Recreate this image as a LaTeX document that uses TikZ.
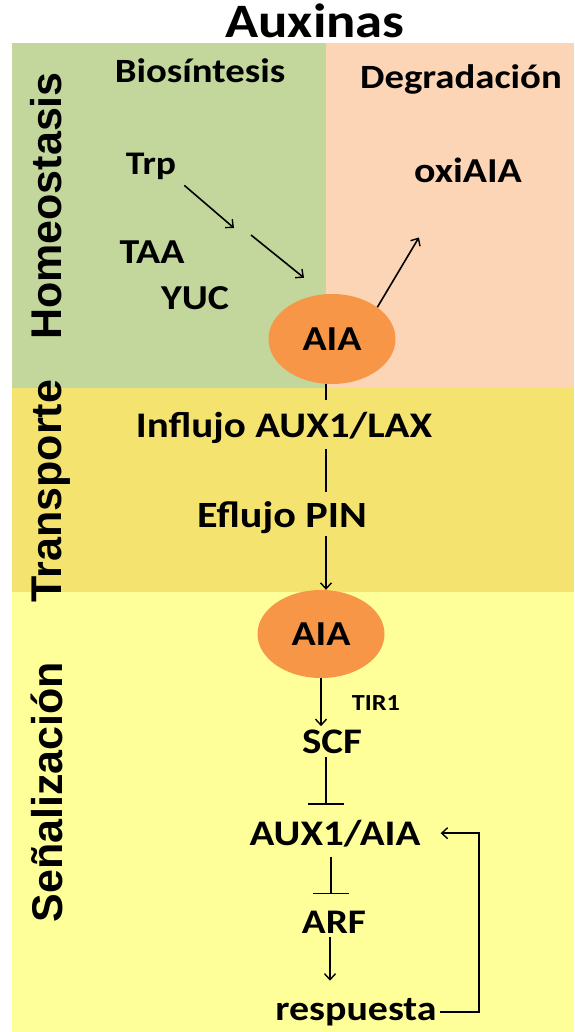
\documentclass[tikz,border=0pt]{standalone}
\usepackage{fontspec}
\setmainfont{Carlito}
\newfontfamily\sidefont{Liberation Sans}
\usetikzlibrary{arrows.meta,shapes.geometric,calc}

\definecolor{homeogreen}{HTML}{C3D69B}
\definecolor{degpeach}{HTML}{FBD5B5}
\definecolor{transyellow}{HTML}{F5E36F}
\definecolor{signalyellow}{HTML}{FFFF99}
\definecolor{auxorange}{HTML}{F79646}

% horizontally widened lettering
\newcommand{\wide}[1]{\scalebox{1.14}[1]{#1}}

\begin{document}
\begin{tikzpicture}[x=1pt,y=-1pt,
  lbl/.style={inner sep=0pt, anchor=base, font=\bfseries\fontsize{35}{40}\selectfont},
  side/.style={inner sep=0pt, anchor=base, rotate=90, font=\sidefont\bfseries\fontsize{43}{48}\selectfont},
  auxin/.style={ellipse, fill=auxorange, inner sep=0pt, minimum width=127pt, minimum height=90pt,
                font=\bfseries\fontsize{35}{40}\selectfont},
  link/.style={line width=1.6pt, black},
  arr/.style={link, -{Straight Barb[length=6pt,width=11pt,line width=1.4pt]}},
  inhib/.style={link, -{Bar[width=36pt,line width=1.7pt]}}]

\useasboundingbox (0,0) rectangle (574,1032);
\fill[white] (0,0) rectangle (574,1032);

% bands
\fill[homeogreen]   (12,43)  rectangle (326,388);
\fill[degpeach]     (326,43) rectangle (574,388);
\fill[transyellow]  (12,388) rectangle (574,592);
\fill[signalyellow] (12,592) rectangle (574,1032);

% headings
\node[lbl, font=\bfseries\fontsize{48}{52}\selectfont] (title) at (315,38) {\wide{Auxinas}};
\node[side] (homeo) at (61,206) {Homeostasis};
\node[side] (transp) at (61,491) {Transporte};
\node[side] (senal) at (62,792) {Señalización};

% homeostasis
\node[lbl, font=\bfseries\fontsize{34}{40}\selectfont] (bio) at (200,83) {\wide{Biosíntesis}};
\node[lbl, font=\bfseries\fontsize{34}{40}\selectfont] (deg) at (461,89) {\wide{Degradación}};
\node[lbl, font=\bfseries\fontsize{33}{40}\selectfont] (trp) at (151,175) {\wide{Trp}};
\node[lbl] (oxi) at (468,183) {\wide{oxiAIA}};
\node[lbl] (taa) at (152,263) {\wide{TAA}};
\node[lbl] (yuc) at (195,309) {\wide{YUC}};
\node[auxin] (aia1) at (332,339) {\wide{AIA}};

\coordinate (taastep) at (234,228);
\coordinate (yucstep) at (251,235);
\draw[arr] ([shift={(8,5)}]trp.south east) -- (taastep);
\draw[arr] (yucstep) -- ([shift={(-28,-16)}]aia1.north);
\draw[arr] (aia1.35) -- ([shift={(5,54)}]oxi.south west);

% transport
\coordinate (spine) at (326,0);
\node[lbl, font=\bfseries\fontsize{36}{40}\selectfont] (influjo) at (284,437) {\wide{Influjo AUX1/LAX}};
\node[lbl, font=\bfseries\fontsize{37}{40}\selectfont] (eflujo) at (282,527) {\wide{Eflujo PIN}};
\node[auxin, minimum height=88pt] (aia2) at (321,634) {\wide{AIA}};

\draw[link] (aia1.south -| spine) -- ([shift={(0,-12)}]influjo.north -| spine);
\draw[link] ([shift={(0,6)}]influjo.south -| spine) -- ([shift={(0,-9)}]eflujo.north -| spine);
\draw[arr] ([shift={(0,3)}]eflujo.south -| spine) -- (aia2.north -| spine);

% signalling
\node[lbl, font=\bfseries\fontsize{23}{26}\selectfont] (tir) at (376,710) {\wide{TIR1}};
\node[lbl, font=\bfseries\fontsize{36}{40}\selectfont] (scf) at (332,753) {\wide{SCF}};
\node[lbl, font=\bfseries\fontsize{36}{40}\selectfont] (aux) at (335,845) {\wide{AUX1/AIA}};
\node[lbl, font=\bfseries\fontsize{34.5}{40}\selectfont] (arf) at (334,933) {\wide{ARF}};
\node[lbl] (resp) at (356,1020) {\wide{respuesta}};

\draw[arr] (aia2.south) -- ([shift={(0,-3)}]aia2.south |- scf.north);
\draw[inhib] ([shift={(-6,4)}]scf.south) -- ([shift={(-6,-15)}]scf.south |- aux.north);
\draw[inhib] ([shift={(-4,10)}]aux.south) -- ([shift={(-4,-16)}]aux.south |- arf.north);
\draw[arr] ([shift={(-4,4)}]arf.south) -- ([shift={(-4,-17)}]arf.south |- resp.north);
\draw[arr] ([shift={(3,0)}]resp.east) -- ++(39,0) |- ([shift={(20,0)}]aux.east);

\end{tikzpicture}
\end{document}
